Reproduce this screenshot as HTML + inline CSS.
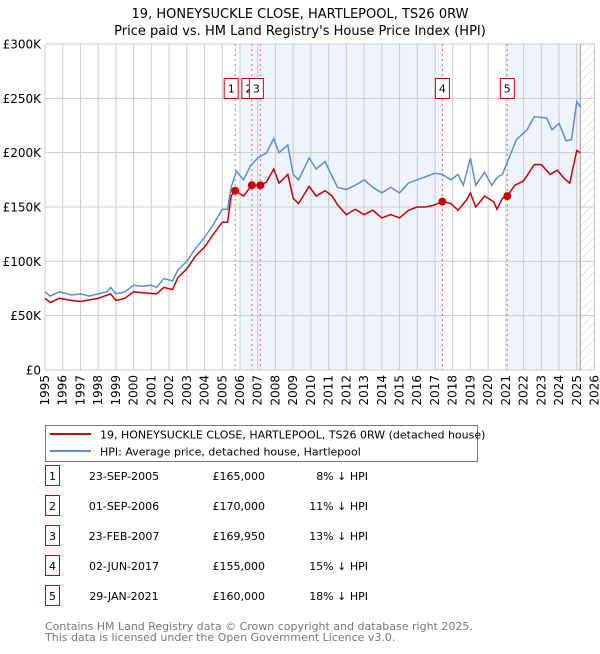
<!DOCTYPE html>
<html><head><meta charset="utf-8"><style>
body{margin:0;background:#fff;font-family:"DejaVu Sans","Liberation Sans",sans-serif;}
svg text{font-family:"DejaVu Sans","Liberation Sans",sans-serif;}
</style></head><body>
<svg id="chart" width="600" height="650" xmlns="http://www.w3.org/2000/svg">
<defs><pattern id="hatch" width="6" height="6" patternUnits="userSpaceOnUse" patternTransform="rotate(45)"><line x1="0" y1="0" x2="0" y2="6" stroke="#ccc" stroke-width="1"/></pattern></defs>
<text x="300" y="18" text-anchor="middle" font-size="13">19, HONEYSUCKLE CLOSE, HARTLEPOOL, TS26 0RW</text>
<text x="300" y="35" text-anchor="middle" font-size="13">Price paid vs. HM Land Registry's House Price Index (HPI)</text>
<g id="plot"></g>
<g>
<rect x="45.5" y="425.5" width="432" height="36" fill="#fff" stroke="#777"/>
<line x1="50" y1="434" x2="91" y2="434" stroke="#cc0000" stroke-width="2"/>
<text x="100" y="438.5" font-size="11">19, HONEYSUCKLE CLOSE, HARTLEPOOL, TS26 0RW (detached house)</text>
<line x1="50" y1="451" x2="91" y2="451" stroke="#5b8fd4" stroke-width="2"/>
<text x="100" y="455.5" font-size="11">HPI: Average price, detached house, Hartlepool</text>
</g>
<g id="table"></g>
<text x="45" y="630" font-size="11" fill="#777">Contains HM Land Registry data © Crown copyright and database right 2025.</text>
<text x="45" y="641" font-size="11" fill="#777">This data is licensed under the Open Government Licence v3.0.</text>
</svg>
<script>
const hpiYears=[1995,1995.3,1995.8,1996.5,1997,1997.5,1998,1998.5,1998.7,1999,1999.5,2000,2000.5,2001,2001.3,2001.7,2002.2,2002.5,2003,2003.5,2004,2004.5,2005,2005.3,2005.5,2005.8,2006.2,2006.6,2007,2007.5,2007.9,2008.2,2008.7,2009,2009.3,2009.9,2010.3,2010.8,2011,2011.5,2012,2012.5,2013,2013.5,2014,2014.5,2015,2015.5,2016,2016.5,2017,2017.4,2017.9,2018.3,2018.6,2019,2019.3,2019.8,2020.2,2020.5,2020.8,2021.2,2021.6,2022.2,2022.6,2023.3,2023.6,2024,2024.4,2024.7,2025,2025.2];
const hpiValues=[72,68,72,69,70,68,70,72,76,70,72,78,77,78,76,84,82,92,100,112,122,134,148,148,168,183,175,188,195,200,213,200,207,180,175,195,185,192,185,168,166,170,175,168,163,168,163,172,175,178,181,180,175,180,170,195,170,182,170,177,180,196,212,221,233,232,221,227,211,212,247,242];
const ppYears=[1995,1995.3,1995.8,1996.5,1997,1998,1998.7,1999,1999.5,2000,2000.5,2001.3,2001.7,2002.2,2002.5,2003,2003.5,2004,2004.5,2005,2005.3,2005.5,2005.73,2006.2,2006.67,2007.15,2007.5,2007.9,2008.2,2008.7,2009,2009.3,2009.9,2010.3,2010.8,2011.2,2011.5,2012,2012.5,2013,2013.5,2014,2014.5,2015,2015.5,2016,2016.5,2017,2017.42,2017.9,2018.3,2018.8,2019,2019.3,2019.8,2020.3,2020.5,2020.8,2021.08,2021.5,2022,2022.6,2023,2023.5,2023.9,2024.3,2024.6,2025,2025.2];
const ppValues=[66,62,66,64,63,66,70,64,66,72,71,70,76,74,85,93,105,113,125,136,136,160,165,160,170,170,173,185,172,180,158,153,169,160,165,160,152,143,148,143,147,140,143,140,147,150,150,152,155,153,147,157,163,150,160,155,148,158,160,170,174,189,189,180,184,176,172,202,200];
const saleLabels=["1","2","3","4","5"];
const saleYears=[2005.73,2006.67,2007.15,2017.42,2021.08];
const saleValues=[165,170,169.95,155,160];
const saleDates=["23-SEP-2005","01-SEP-2006","23-FEB-2007","02-JUN-2017","29-JAN-2021"];
const salePrices=["£165,000","£170,000","£169,950","£155,000","£160,000"];
const saleHpi=["8% ↓ HPI","11% ↓ HPI","13% ↓ HPI","15% ↓ HPI","18% ↓ HPI"];
const yTicks=[0,50,100,150,200,250,300];
const yTickLabels=["£0","£50K","£100K","£150K","£200K","£250K","£300K"];
const xTicks=[1995,1996,1997,1998,1999,2000,2001,2002,2003,2004,2005,2006,2007,2008,2009,2010,2011,2012,2013,2014,2015,2016,2017,2018,2019,2020,2021,2022,2023,2024,2025,2026];
const shadeBands=[[2006.0,2017.42],[2021.08,2025.2]];
const dataEnd=2025.2;

const X0=45,X1=594.5,Y0=370,Y1=44,yr0=1995,yr1=2026,vmax=300;
const sx=y=>X0+(y-yr0)/(yr1-yr0)*(X1-X0);
const sy=v=>Y0-v/vmax*(Y0-Y1);
const NS="http://www.w3.org/2000/svg";
const plot=document.getElementById('plot');
function mk(tag,attrs,parent){const e=document.createElementNS(NS,tag);for(const k in attrs)e.setAttribute(k,attrs[k]);(parent||plot).appendChild(e);return e;}
for(const b of shadeBands){const r=mk('rect',{x:sx(b[0]),y:Y1,width:sx(b[1])-sx(b[0]),height:Y0-Y1,fill:'#eef3fc'});

}
const hr=mk('rect',{x:sx(dataEnd),y:Y1,width:X1-sx(dataEnd),height:Y0-Y1,fill:'url(#hatch)'});


xTicks.forEach(t=>{const l=mk('line',{x1:sx(t),x2:sx(t),y1:Y1,y2:Y0,stroke:'#ccc'});


const tx=mk('text',{x:0,y:0,'font-size':12,'text-anchor':'end',transform:`translate(${sx(t)+4},${Y0+5}) rotate(-90)`});tx.textContent=t;

});
yTicks.forEach((t,i)=>{const l=mk('line',{x1:X0,x2:X1,y1:sy(t),y2:sy(t),stroke:'#ccc'});


const tx=mk('text',{x:X0-4,y:sy(t)+4.5,'font-size':12,'text-anchor':'end'});tx.textContent=yTickLabels[i];

});
const el=mk('line',{x1:sx(dataEnd),x2:sx(dataEnd),y1:Y1,y2:Y0,stroke:'#999'});


saleYears.forEach(y=>{const l=mk('line',{x1:sx(y),x2:sx(y),y1:Y1,y2:Y0,stroke:'#e66','stroke-dasharray':'2,3'});

});
const pts=(xs,vs)=>xs.map((y,i)=>sx(y).toFixed(1)+','+sy(vs[i]).toFixed(1)).join(' ');
const hl=mk('polyline',{points:pts(hpiYears,hpiValues),fill:'none',stroke:'#5b8fd4','stroke-width':1.5});


const pl=mk('polyline',{points:pts(ppYears,ppValues),fill:'none',stroke:'#cc0000','stroke-width':1.5});


const boxShift=[-4,-3,-4,0,0];
saleYears.forEach((y,i)=>{const c=mk('circle',{cx:sx(y),cy:sy(saleValues[i]),r:4,fill:'#cc0000'});


const g=mk('g',{});


const cx=sx(y)+boxShift[i];
mk('rect',{x:cx-7,y:78.5,width:14,height:20,fill:'#fff',stroke:'#cc0000'},g);
const t=mk('text',{x:cx,y:92.5,'font-size':11,'text-anchor':'middle'},g);t.textContent=saleLabels[i];});
const tb=document.getElementById('table');
saleLabels.forEach((s,i)=>{const y=483+i*30;const g=mk('g',{},tb);


mk('rect',{x:45.5,y:y-17.5,width:14,height:20,fill:'#fff',stroke:'#cc0000'},g);
const a=mk('text',{x:52.5,y:y-3,'font-size':11,'text-anchor':'middle'},g);a.textContent=s;
const b=mk('text',{x:124,y:y-3,'font-size':11,'text-anchor':'middle'},g);b.textContent=saleDates[i];
const c=mk('text',{x:265,y:y-3,'font-size':11,'text-anchor':'end'},g);c.textContent=salePrices[i];
const d=mk('text',{x:368,y:y-3,'font-size':11,'text-anchor':'end'},g);d.textContent=saleHpi[i];});
</script>
</body></html>
